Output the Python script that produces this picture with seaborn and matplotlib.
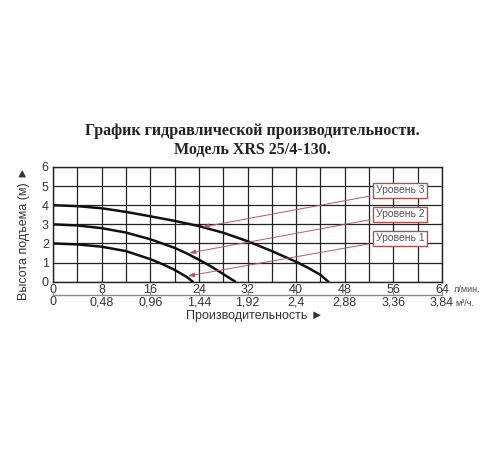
import matplotlib
matplotlib.use("Agg")
import matplotlib.pyplot as plt
import seaborn as sns
import pandas as pd

# flow (l/min) and head (m) for each speed level
flow_1 = [0, 4, 8, 12, 16, 18, 20, 22, 23]
head_1 = [2.0, 1.95, 1.83, 1.6, 1.18, 0.92, 0.62, 0.25, 0.0]
flow_2 = [0, 4, 8, 12, 16, 20, 22, 24, 26, 28, 30]
head_2 = [3.0, 2.94, 2.8, 2.57, 2.22, 1.77, 1.48, 1.15, 0.8, 0.4, 0.0]
flow_3 = [0, 4, 8, 12, 16, 20, 24, 28, 32, 36, 40, 42, 44, 45.3]
head_3 = [4.0, 3.95, 3.84, 3.65, 3.42, 3.18, 2.91, 2.56, 2.12, 1.6, 1.04, 0.72, 0.36, 0.0]

levels = ["Уровень 1", "Уровень 2", "Уровень 3"]
# where each label arrow points (on the curve) and where the label box sits
arrow_tips = [(22.2, 0.3), (22.4, 1.5), (24.6, 2.86)]
label_pos = [(57.1, 2.27), (57.1, 3.53), (57.1, 4.77)]

x_ticks = [0, 8, 16, 24, 32, 40, 48, 56, 64]
m3_ticks = [0, 0.48, 0.96, 1.44, 1.92, 2.4, 2.88, 3.36, 3.84]
m3_labels = ["0", "0,48", "0,96", "1,44", "1,92", "2,4", "2,88", "3,36", "3,84"]
y_ticks = [0, 1, 2, 3, 4, 5, 6]

df = pd.concat([
    pd.DataFrame({"flow": flow_1, "head": head_1, "level": levels[0]}),
    pd.DataFrame({"flow": flow_2, "head": head_2, "level": levels[1]}),
    pd.DataFrame({"flow": flow_3, "head": head_3, "level": levels[2]}),
])

sns.set_style("white")
plt.rcParams["font.family"] = ["Liberation Sans", "DejaVu Sans"]

fig = plt.figure(figsize=(5, 4.5), dpi=100)
ax = fig.add_axes([0.106, 0.374, 0.778, 0.255])

sns.lineplot(data=df, x="flow", y="head", hue="level",
             palette=["#111111"] * 3, linewidth=1.8, legend=False, ax=ax)

ax.set_xlim(0, 64)
ax.set_ylim(0, 6)
ax.set_xticks(x_ticks)
ax.set_xticks(range(0, 65, 4), minor=True)
ax.set_yticks(y_ticks)
ax.grid(which="both", color="#222222", linewidth=0.9)
ax.tick_params(axis="both", which="both", length=0, labelsize=9, colors="#333333")
ax.tick_params(axis="x", pad=1.5)
ax.tick_params(axis="y", pad=3)
ax.set_xlabel("")
ax.set_ylabel("")
for s in ax.spines.values():
    s.set_color("#222222")
    s.set_linewidth(1.0)

# label boxes with arrows to each curve
for name, tip, pos in zip(levels, arrow_tips, label_pos):
    ax.annotate(name, xy=tip, xytext=pos, ha="center", va="center",
                fontsize=7.5, color="#555555", annotation_clip=False,
                bbox=dict(boxstyle="square,pad=0.25", fc="white", ec="#a8544e", lw=1.0),
                arrowprops=dict(arrowstyle="-|>,head_length=0.5,head_width=0.18",
                                color="#b05a66", lw=0.7, shrinkB=0))

# second scale in m3/h below the l/min one
ax2 = ax.twiny()
ax2.set_xlim(0, 64 * 0.06)
ax2.xaxis.set_ticks_position("bottom")
ax2.spines["bottom"].set_position(("outward", 9.4))
for side in ["top", "left", "right"]:
    ax2.spines[side].set_visible(False)
ax2.spines["bottom"].set_color("#888888")
ax2.spines["bottom"].set_linewidth(1.0)
ax2.set_xticks(m3_ticks)
ax2.set_xticklabels(m3_labels)
ax2.tick_params(axis="x", direction="in", length=3, color="#888888",
                labelsize=9, labelcolor="#333333", pad=1)
ax2.grid(False)

ax.text(1.03, -0.064, "л/мин.", transform=ax.transAxes, fontsize=6.5,
        color="#444444", ha="left", va="center")
ax.text(1.035, -0.19, "м³/ч.", transform=ax.transAxes, fontsize=6.5,
        color="#444444", ha="left", va="center")

fig.text(0.51, 1 - 316 / 450, "Производительность ►", ha="center", va="center",
         fontsize=9, color="#333333")
fig.text(0.048, 1 - 233 / 450, "Высота подъема (м) ►", ha="center", va="center",
         rotation=90, fontsize=9, color="#333333")

fig.text(0.504, 1 - 131 / 450, "График гидравлической производительности.",
         ha="center", va="center", fontsize=11.5, fontweight="bold",
         family=["Liberation Serif", "DejaVu Serif"], color="#222222")
fig.text(0.504, 1 - 150 / 450, "Модель XRS 25/4-130.",
         ha="center", va="center", fontsize=11.5, fontweight="bold",
         family=["Liberation Serif", "DejaVu Serif"], color="#222222")

fig.savefig("out.png", dpi=100)
